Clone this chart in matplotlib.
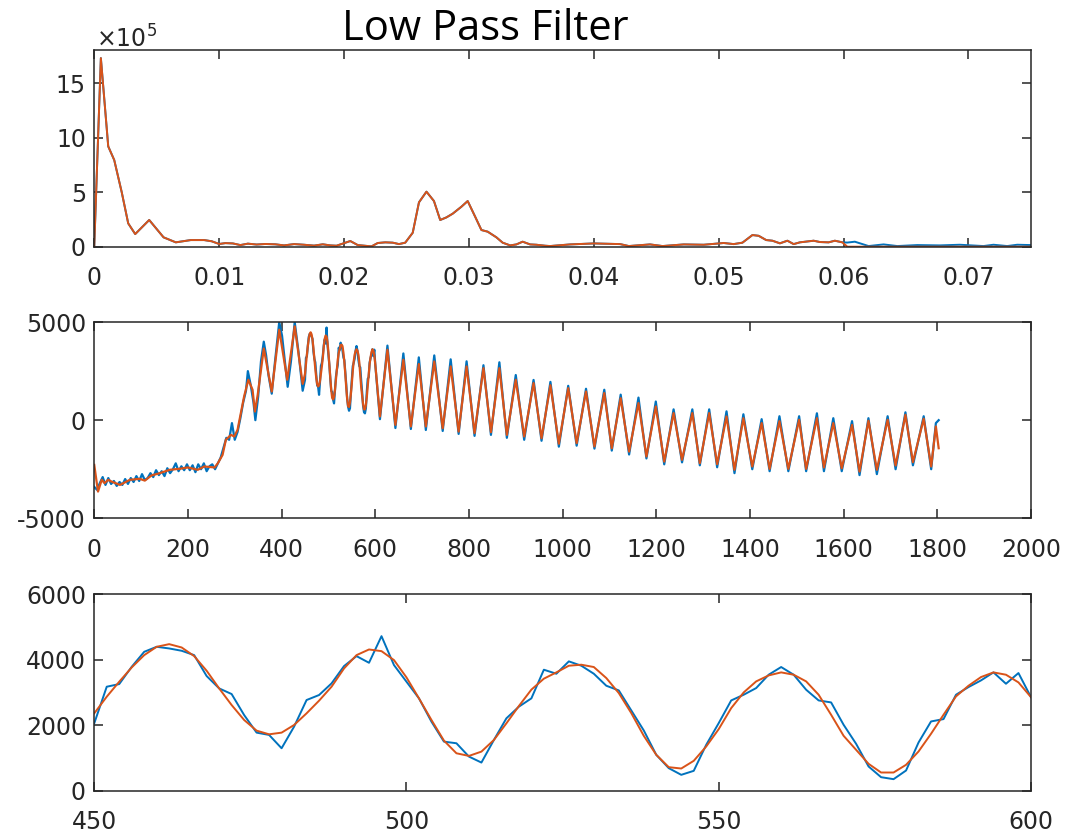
import numpy as np
import matplotlib
matplotlib.use("Agg")
import matplotlib.pyplot as plt

plt.rcParams['font.family'] = ['DejaVu Sans']
plt.rcParams['axes.unicode_minus'] = False
plt.rcParams['mathtext.fontset'] = 'custom'
plt.rcParams['mathtext.rm'] = 'DejaVu Sans'

BLUE = '#0072BD'
ORANGE = '#D95319'
AXC = '#262626'

# ---- spectrum (magnitude vs normalised frequency), x1e5 ----
freq_lo = [0, 0.00053, 0.00112, 0.0016, 0.0022, 0.00272, 0.00328, 0.0044, 0.00555,
           0.00653, 0.00773, 0.0088, 0.0094, 0.01, 0.0105, 0.0111, 0.0117, 0.0123,
           0.0130, 0.0137, 0.0145, 0.0152, 0.0160, 0.0168, 0.0176, 0.0183, 0.0189,
           0.0194, 0.0205, 0.0211, 0.0222, 0.0227, 0.0233, 0.0239, 0.0244, 0.0249,
           0.0255, 0.026, 0.0266, 0.0272, 0.0277, 0.0282, 0.0287, 0.0294, 0.0299,
           0.0305, 0.031, 0.0315, 0.0322, 0.0327, 0.0333, 0.0338, 0.0343, 0.0349,
           0.0354, 0.0361, 0.0365, 0.0381, 0.04, 0.0421, 0.0428, 0.0445, 0.0455,
           0.0472, 0.0488, 0.0504, 0.0512, 0.0519, 0.0527, 0.0532, 0.0538, 0.0543,
           0.0549, 0.0555, 0.056, 0.0565, 0.0576, 0.0581, 0.0588, 0.0593, 0.0599]
mag_lo = [0, 17.3, 9.2, 7.95, 5.0, 2.14, 1.16, 2.45, 0.86,
          0.4, 0.61, 0.61, 0.5, 0.25, 0.33, 0.3, 0.15, 0.28,
          0.2, 0.25, 0.22, 0.12, 0.24, 0.18, 0.1, 0.22, 0.12,
          0.09, 0.52, 0.15, 0.03, 0.34, 0.4, 0.37, 0.24, 0.37,
          1.28, 4.07, 5.05, 4.19, 2.45, 2.69, 3.03, 3.67, 4.19,
          2.75, 1.53, 1.38, 0.86, 0.37, 0.12, 0.21, 0.46, 0.21,
          0.18, 0.09, 0.06, 0.21, 0.3, 0.24, 0.06, 0.21, 0.06,
          0.21, 0.18, 0.34, 0.24, 0.37, 1.07, 1.0, 0.61, 0.55,
          0.31, 0.55, 0.24, 0.4, 0.55, 0.43, 0.4, 0.55, 0.4]
# above the cutoff only the raw signal keeps some energy
freq_hi = [0.0603, 0.0609, 0.062, 0.0632, 0.0643, 0.0659, 0.0677, 0.0693,
           0.0712, 0.072, 0.0731, 0.0739, 0.075]
mag_hi_raw = [0.38, 0.46, 0.06, 0.21, 0.06, 0.15, 0.12, 0.18,
              0.06, 0.18, 0.06, 0.18, 0.15]
mag_hi_filt = [0, 0, 0, 0, 0, 0, 0, 0, 0, 0, 0, 0, 0]

# ---- time signal, head section (0..445) ----
raw_t_head = [0, 6, 12, 18, 24, 30, 36, 42, 48, 54, 60, 66, 72, 78, 84, 90, 96, 102,
              108, 114, 120, 126, 132, 138, 144, 150, 156, 162, 168, 174, 180, 186,
              192, 198, 204, 210, 216, 222, 228, 234, 240, 246, 252, 258, 264, 270,
              276, 282, 288, 294, 300, 306, 312, 318, 324, 328, 334, 340, 344, 350,
              356, 362, 367, 372, 379, 386, 395, 401, 413, 420, 428, 436, 445]
raw_head = [-3400, -3550, -3200, -2900, -3300, -2950, -3250, -3100, -3350, -3150, -3300,
            -3000, -3250, -2950, -3150, -2850, -3100, -2750, -3050, -2950, -2700, -2900,
            -2550, -2800, -2600, -2850, -2450, -2700, -2500, -2200, -2600, -2350, -2550,
            -2250, -2550, -2300, -2650, -2250, -2500, -2200, -2600, -2350, -2250, -2500,
            -2200, -1900, -1400, -900, -1000, -150, -1000, -600, 100, 900, 1500, 2500,
            1800, 900, 0, 1200, 3000, 4000, 3300, 2300, 1350, 3000, 5000, 4300, 1700,
            3000, 5000, 3500, 1500]
filt_t_head = [0, 8, 16, 22, 30, 37, 55, 76, 97, 108, 122, 140, 161, 182, 200, 221, 235,
               257, 264, 274, 281, 292, 299, 306, 320, 329, 338, 343, 349, 362, 379, 395,
               412, 428, 445]
filt_head = [-2280, -3640, -3040, -3210, -3040, -3130, -3300, -3040, -2990, -3080, -2820,
             -2700, -2530, -2480, -2410, -2530, -2360, -2410, -2190, -1770, -1000, -750,
             -830, -490, 1210, 2060, 1550, 440, 1290, 3650, 1460, 4610, 2060, 4780, 1850]

# ---- detail window 450..600 (every second sample) ----
t_zoom = np.arange(450, 601, 2)
raw_zoom = [2055, 3174, 3255, 3784, 4242, 4395, 4344, 4273, 4140, 3500, 3123, 2950, 2309,
            1770, 1700, 1292, 1953, 2767, 2920, 3276, 3805, 4110, 3906, 4720, 3835, 3327,
            2818, 2106, 1495, 1445, 1038, 855, 1546, 2208, 2564, 2818, 3694, 3571, 3949,
            3816, 3571, 3204, 3061, 2449, 1837, 1092, 684, 480, 602, 1398, 2061, 2755,
            2929, 3133, 3541, 3776, 3541, 3082, 2755, 2694, 2010, 1429, 735, 408, 347,
            612, 1469, 2112, 2184, 2929, 3163, 3367, 3612, 3265, 3592, 2857]
filt_zoom = [2360, 2869, 3327, 3764, 4140, 4395, 4476, 4374, 4110, 3662, 3123, 2614, 2157,
             1831, 1719, 1770, 2004, 2360, 2747, 3174, 3733, 4140, 4313, 4262, 3988, 3459,
             2818, 2157, 1526, 1139, 1058, 1190, 1546, 2055, 2584, 3085, 3420, 3612, 3816,
             3847, 3776, 3439, 2980, 2367, 1673, 1092, 714, 673, 908, 1347, 1878, 2520,
             3000, 3337, 3520, 3612, 3541, 3337, 2929, 2316, 1673, 1245, 816, 551, 551,
             786, 1194, 1735, 2316, 2878, 3204, 3469, 3612, 3541, 3306, 2857]

# ---- tail section (peaks and troughs after 600) ----
t_tail = [610, 626, 643, 660, 676, 693, 708, 726, 744, 761, 778, 795, 812, 831, 847, 865,
          881, 900, 918, 938, 955, 974, 992, 1012, 1030, 1050, 1068, 1089, 1105, 1124,
          1142, 1162, 1179, 1199, 1217, 1237, 1255, 1277, 1293, 1313, 1330, 1350, 1367,
          1386, 1405, 1425, 1442, 1463, 1482, 1505, 1520, 1543, 1558, 1578, 1596, 1618,
          1634, 1653, 1671, 1694, 1711, 1732, 1748, 1771, 1787, 1797, 1803]
filt_tail = [190, 3590, -240, 3080, -320, 2860, -320, 2990, -410, 2740, -580, 2740, -660,
             2650, -610, 2650, -750, 2060, -830, 1890, -920, 1780, -1200, 1630, -1170,
             1460, -1340, 1380, -1430, 1120, -1600, 870, -1850, 700, -2110, 360, -2020,
             360, -2190, 360, -2240, 190, -2530, 100, -2360, -150, -2480, -50, -2480, 20,
             -2480, 100, -2410, -150, -2450, -240, -2620, -30, -2530, 20, -2310, 270,
             -2140, 70, -2360, -320, -1430]
raw_tail = [50, 3800, -400, 3400, -450, 3200, -500, 3300, -550, 3100, -700, 3000, -800,
            2800, -750, 2950, -900, 2300, -1000, 2050, -1050, 1950, -1350, 1750, -1300,
            1600, -1450, 1550, -1550, 1300, -1750, 1150, -1950, 950, -2250, 550, -2150,
            550, -2300, 550, -2400, 450, -2700, 300, -2500, 50, -2600, 200, -2600, 200,
            -2600, 350, -2600, 100, -2600, -50, -2800, 100, -2750, 200, -2500, 400,
            -2300, 200, -2500, -150, 0]

freq = np.array(freq_lo + freq_hi) * 1.0
fft_raw = np.array(mag_lo + mag_hi_raw) * 1e5
fft_filt = np.array(mag_lo + mag_hi_filt) * 1e5

t_raw = np.concatenate([raw_t_head, t_zoom, t_tail])
x_raw = np.concatenate([raw_head, raw_zoom, raw_tail])
t_filt = np.concatenate([filt_t_head, t_zoom, t_tail])
x_filt = np.concatenate([filt_head, filt_zoom, filt_tail])

fig = plt.figure(figsize=(10.71, 8.4), dpi=100)
L, W, H = 0.088, 0.8746, 0.2336
ax1 = fig.add_axes([L, 0.7063, W, H])
ax2 = fig.add_axes([L, 0.3830, W, H])
ax3 = fig.add_axes([L, 0.0589, W, H])

lw = 1.4
ax1.plot(freq, fft_raw, color=BLUE, lw=lw)
ax1.plot(freq, fft_filt, color=ORANGE, lw=lw)
ax1.set_xlim(0, 0.075)
ax1.set_ylim(0, 18e5)
ax1.set_xticks(np.arange(0, 0.071, 0.01))
ax1.set_xticklabels(['0', '0.01', '0.02', '0.03', '0.04', '0.05', '0.06', '0.07'])
ax1.set_yticks([0, 5e5, 10e5, 15e5])
ax1.set_yticklabels(['0', '5', '10', '15'])

ax2.plot(t_raw, x_raw, color=BLUE, lw=1.6)
ax2.plot(t_filt, x_filt, color=ORANGE, lw=1.6)
ax2.set_xlim(0, 2000)
ax2.set_ylim(-5000, 5000)
ax2.set_xticks(np.arange(0, 2001, 200))
ax2.set_yticks([-5000, 0, 5000])

ax3.plot(t_zoom, raw_zoom, color=BLUE, lw=lw)
ax3.plot(t_zoom, filt_zoom, color=ORANGE, lw=lw)
ax3.set_xlim(450, 600)
ax3.set_ylim(0, 6000)
ax3.set_xticks([450, 500, 550, 600])
ax3.set_yticks([0, 2000, 4000, 6000])

for ax in (ax1, ax2, ax3):
    for sp in ax.spines.values():
        sp.set_color(AXC)
        sp.set_linewidth(1.1)
    ax.tick_params(direction='in', top=True, right=True, length=6.5, width=1.1,
                   color=AXC, labelcolor=AXC, labelsize=17)
    ax.tick_params(axis='x', pad=14)
    ax.tick_params(axis='y', pad=6)

fig.text(96 / 1071, 1 - 48 / 840, r'$\times10^{5}$', fontsize=17, color=AXC,
         ha='left', va='baseline')
fig.text(485 / 1071, 1 - 40 / 840, 'Low Pass Filter', fontsize=30, color='black',
         family='Open Sans', ha='center', va='baseline')

fig.savefig('out.png', dpi=100)
